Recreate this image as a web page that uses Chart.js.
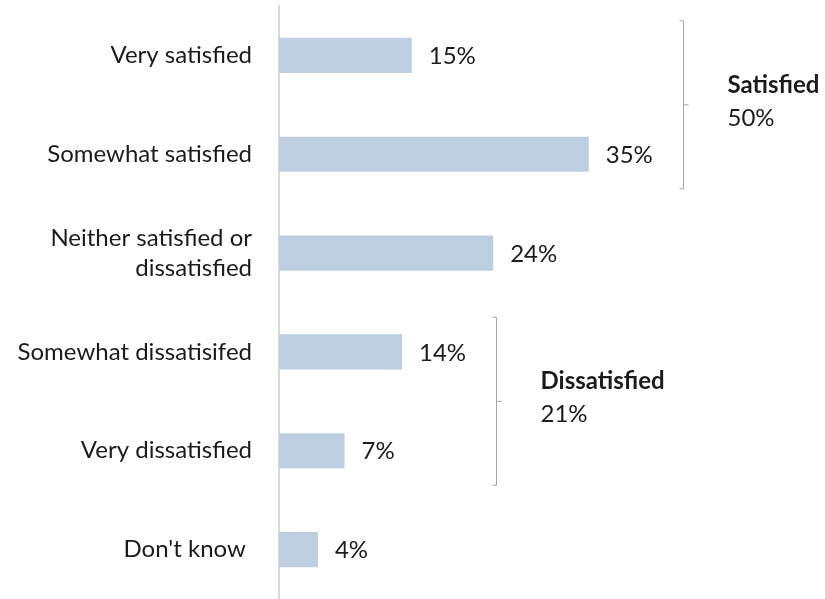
<!DOCTYPE html>
<html>
<head>
<meta charset="utf-8">
<script src="https://cdn.jsdelivr.net/npm/chart.js@4/dist/chart.umd.min.js"></script>
<style>
  html, body { margin: 0; padding: 0; background: #fff; }
  #wrap { width: 825px; height: 599px; }
</style>
</head>
<body>
<div id="wrap"><canvas id="satChart"></canvas></div>
<script>
const categories = [
    "Very satisfied",
    "Somewhat satisfied",
    ["Neither satisfied or", "dissatisfied"],
    "Somewhat dissatisifed",
    "Very dissatisfied",
    "Don't know "
];
const shares = [15, 35, 24.2, 13.9, 7.4, 4.4];

// bracketed summary groups
const groupNames = ["Satisfied", "Dissatisfied"];
const groupTotals = ["50%", "21%"];
const groupFrom = [0, 3];
const groupTo = [1, 4];

const FONT = "Lato, 'Open Sans', sans-serif";
const TEXT = "#1b1b1b";

const valueLabels = {
    id: "valueLabels",
    afterDatasetsDraw(chart) {
        const ctx = chart.ctx;
        const meta = chart.getDatasetMeta(0);
        ctx.save();
        ctx.font = "24px " + FONT;
        ctx.fillStyle = TEXT;
        ctx.textAlign = "left";
        ctx.textBaseline = "middle";
        meta.data.forEach((bar, i) => {
            ctx.fillText(Math.round(shares[i]) + "%", bar.x + 17, bar.y + 1);
        });
        ctx.restore();
    }
};

const brackets = {
    id: "brackets",
    afterDraw(chart) {
        const ctx = chart.ctx;
        const xs = chart.scales.x;
        const ys = chart.scales.y;
        const half = (ys.getPixelForValue(1) - ys.getPixelForValue(0)) * 0.35;
        ctx.save();
        groupNames.forEach((name, g) => {
            let top = groupFrom[g], bottom = groupTo[g];
            let maxVal = Math.max(...shares.slice(top, bottom + 1));
            let x = Math.round(xs.getPixelForValue(maxVal) + 94) + 0.5;
            let y0 = ys.getPixelForValue(top) - half;
            let y1 = ys.getPixelForValue(bottom) + half;
            let mid = (y0 + y1) / 2;

            ctx.strokeStyle = "#a6a6a6";
            ctx.lineWidth = 1;
            ctx.beginPath();
            ctx.moveTo(x - 4, y0);
            ctx.lineTo(x, y0);
            ctx.lineTo(x, y1);
            ctx.lineTo(x - 4, y1);
            ctx.moveTo(x, mid);
            ctx.lineTo(x + 5, mid);
            ctx.stroke();

            ctx.fillStyle = TEXT;
            ctx.textAlign = "left";
            ctx.textBaseline = "middle";
            ctx.font = "bold 24px " + FONT;
            ctx.fillText(name, x + 44, mid - 20);
            ctx.font = "24px " + FONT;
            ctx.fillText(groupTotals[g], x + 44, mid + 13);
        });
        ctx.restore();
    }
};

new Chart(document.getElementById("satChart"), {
    type: "bar",
    data: {
        labels: categories,
        datasets: [{
            data: shares,
            backgroundColor: "#bccee0",
            barPercentage: 0.355,
            categoryPercentage: 1
        }]
    },
    options: {
        indexAxis: "y",
        responsive: true,
        maintainAspectRatio: false,
        animation: false,
        layout: { padding: { top: 6, right: 15, bottom: 0, left: 0 } },
        plugins: {
            legend: { display: false },
            tooltip: { enabled: false }
        },
        scales: {
            x: {
                display: false,
                min: 0,
                max: 60
            },
            y: {
                afterFit: s => {
                    s.width = 279;
                    s.paddingTop = 0;
                    s.paddingBottom = 0;
                },
                grid: { display: false, drawTicks: false },
                border: { display: true, color: "#d9d9d9", width: 2 },
                ticks: {
                    padding: 27,
                    color: TEXT,
                    font: { family: FONT, size: 24, lineHeight: 1.25 }
                }
            }
        }
    },
    plugins: [valueLabels, brackets]
});
</script>
</body>
</html>
